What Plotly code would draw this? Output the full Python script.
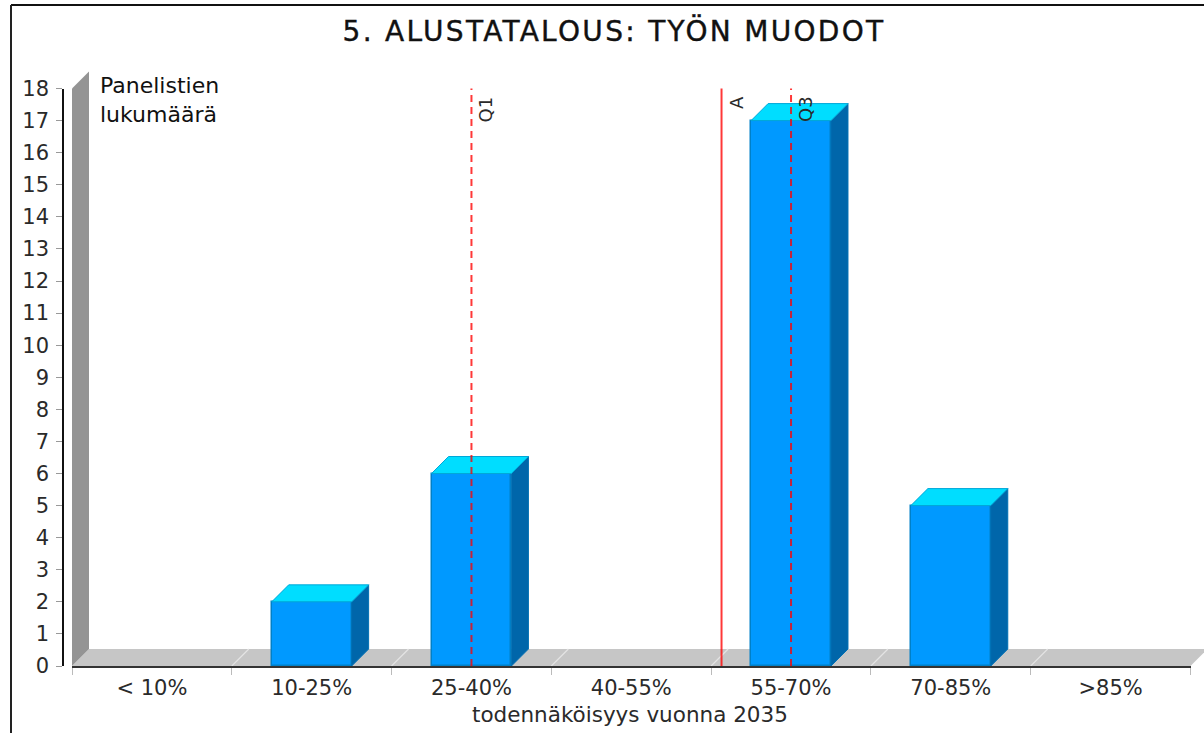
import plotly.graph_objects as go

# ---- data ----
categories = ["< 10%", "10-25%", "25-40%", "40-55%", "55-70%", "70-85%", ">85%"]
counts = [0, 2, 6, 0, 17, 5, 0]
marker_names = ["Q1", "A", "Q3"]
marker_values = [2.0, 3.565, 4.0]
marker_dash = ["7px,5px", "solid", "7px,5px"]
y_ticks = list(range(0, 19))
title_text = "5. ALUSTATALOUS: TYÖN MUODOT"
x_title = "todennäköisyys vuonna 2035"
y_title = "Panelistien<br>lukumäärä"

# ---- geometry / style ----
W, H = 1204, 733
X0, X1 = 72.0, 1190.5      # front plot left/right in px
Y0, Y18 = 666.0, 88.5      # px of value 0 and value 18
DEPTH = 17.0               # 3D depth in px
FONT = "DejaVu Sans"
TXT = "#2A2A2A"


def fx(px):
    return px / W


def fy(py):
    return 1 - py / H


n = len(categories)
positions = list(range(n))
cat_px = (X1 - X0) / n
val_px = (Y0 - Y18) / 18
dx = DEPTH / cat_px
dy = DEPTH / val_px
half = 0.25
left = -0.5
right = n - 0.5
edges = [left + i for i in range(n + 1)]


def dx_of(px):
    return left + (px - X0) / cat_px


def dy_of(py):
    return (Y0 - py) / val_px


fig = go.Figure()

# invisible trace keeps the tick-bearing axes alive
fig.add_trace(go.Scatter(x=positions, y=counts, xaxis="x", yaxis="y", mode="markers",
                         marker=dict(opacity=0), hoverinfo="skip", showlegend=False))

# front faces (empty classes draw nothing)
fig.add_trace(go.Bar(x=positions, y=[v if v > 0 else None for v in counts], width=half * 2,
                     xaxis="x2", yaxis="y2",
                     marker=dict(color="#0099FF", line=dict(color="#0080C8", width=1.5)),
                     showlegend=False))

# top and side faces
top_x, top_y, side_x, side_y = [], [], [], []
for p, v in zip(positions, counts):
    if v <= 0:
        continue
    a, b = p - half, p + half
    top_x += [a, b, b + dx, a + dx, a, None]
    top_y += [v, v, v + dy, v + dy, v, None]
    side_x += [b, b + dx, b + dx, b, b, None]
    side_y += [0, dy, v + dy, v, 0, None]
fig.add_trace(go.Scatter(x=side_x, y=side_y, xaxis="x2", yaxis="y2", mode="lines", fill="toself",
                         fillcolor="#0066AA", line=dict(color="#0070B4", width=1),
                         hoverinfo="skip", showlegend=False))
fig.add_trace(go.Scatter(x=top_x, y=top_y, xaxis="x2", yaxis="y2", mode="lines", fill="toself",
                         fillcolor="#00DDFF", line=dict(color="#00A8D8", width=1),
                         hoverinfo="skip", showlegend=False))

# value markers
for name, val, dash in zip(marker_names, marker_values, marker_dash):
    fig.add_trace(go.Scatter(x=[val, val], y=[0, 18], xaxis="x2", yaxis="y2", mode="lines",
                             line=dict(color="rgba(255,0,0,0.78)", width=2, dash=dash),
                             name=name, showlegend=False))

# wall, floor and floor grid sit behind the bars
shapes = [
    dict(type="path", xref="x2", yref="y2", layer="below", line=dict(width=0), fillcolor="#C6C6C6",
         path=f"M {left},0 L {left + dx},{dy} L {right + dx},{dy} L {right},0 Z"),
    dict(type="path", xref="x2", yref="y2", layer="below", line=dict(width=0), fillcolor="#949494",
         path=f"M {left},0 L {left + dx},{dy} L {left + dx},{18 + dy} L {left},18 Z"),
]
for e in edges[1:-1]:
    shapes.append(dict(type="line", xref="x2", yref="y2", layer="below",
                       x0=e, y0=0, x1=e + dx, y1=dy, line=dict(color="#E4E4E4", width=1.2)))
# outer frame of the picture
shapes.append(dict(type="line", xref="paper", yref="paper", x0=fx(11), x1=1, y0=fy(5), y1=fy(5),
                   line=dict(color="#111111", width=2)))
shapes.append(dict(type="line", xref="paper", yref="paper", x0=fx(11), x1=fx(11), y0=0, y1=fy(5),
                   line=dict(color="#222222", width=2)))

annotations = [
    dict(text=y_title, xref="x2", yref="y2", x=dx_of(98), y=dy_of(70.5), xanchor="left", yanchor="top",
         align="left", showarrow=False, font=dict(family=FONT, size=22, color="#111111")),
    dict(text=x_title, xref="x2", yref="y2", x=dx_of(630), y=0, yshift=Y0 - 714, xanchor="center",
         yanchor="middle", showarrow=False, font=dict(family=FONT, size=21.5, color=TXT)),
]
for name, val in zip(marker_names, marker_values):
    annotations.append(dict(text=name, xref="x2", yref="y2", x=val, y=18, xshift=14.5, yshift=-6,
                            xanchor="center", yanchor="top", textangle=-90, showarrow=False,
                            font=dict(family=FONT, size=18, color=TXT)))

fig.update_layout(
    width=W, height=H, autosize=False, margin=dict(l=0, r=0, t=0, b=0, pad=0),
    paper_bgcolor="white", plot_bgcolor="rgba(0,0,0,0)", showlegend=False, bargap=0,
    title=dict(text=title_text, x=fx(614), y=fy(31), xanchor="center",
               yanchor="middle", font=dict(family=FONT, size=28, color="#111111")),
    font=dict(family=FONT),
    shapes=shapes, annotations=annotations,
    xaxis=dict(domain=[fx(X0), fx(X1)], range=[left, right], anchor="y", automargin=False,
               tickmode="array", tickvals=positions, ticktext=categories, ticks="",
               tickfont=dict(family=FONT, size=21, color=TXT), ticklabelstandoff=2,
               showgrid=False, zeroline=False, showline=True, linecolor="#333333", linewidth=2,
               minor=dict(tickmode="array", tickvals=edges, ticks="outside", ticklen=7,
                          tickcolor="#BBBBBB", tickwidth=1.2, showgrid=False)),
    yaxis=dict(domain=[fy(Y0), fy(Y18)], range=[0, 18], anchor="free", position=fx(63), automargin=False,
               tickmode="array", tickvals=y_ticks, ticks="outside", ticklen=6, tickcolor="#999999",
               tickfont=dict(family=FONT, size=21, color=TXT), ticklabelstandoff=3,
               showgrid=False, zeroline=False, showline=True, linecolor="#111111", linewidth=1.5),
    xaxis2=dict(domain=[fx(X0), 1], range=[left, left + (W - X0) / cat_px], anchor="y2",
                visible=False, fixedrange=True, automargin=False),
    yaxis2=dict(domain=[fy(Y0), 1], range=[0, Y0 / val_px], anchor="x2",
                visible=False, fixedrange=True, automargin=False),
)

css = ("document.body.style.margin='0';document.body.style.overflow='hidden';"
       "var s=document.createElement('style');"
       "s.textContent='.gtitle{letter-spacing:2.3px;stroke:#111111;stroke-width:0.4px}';"
       "document.head.appendChild(s);")
fig.write_html("out.html", config={"displayModeBar": False}, post_script=css)
